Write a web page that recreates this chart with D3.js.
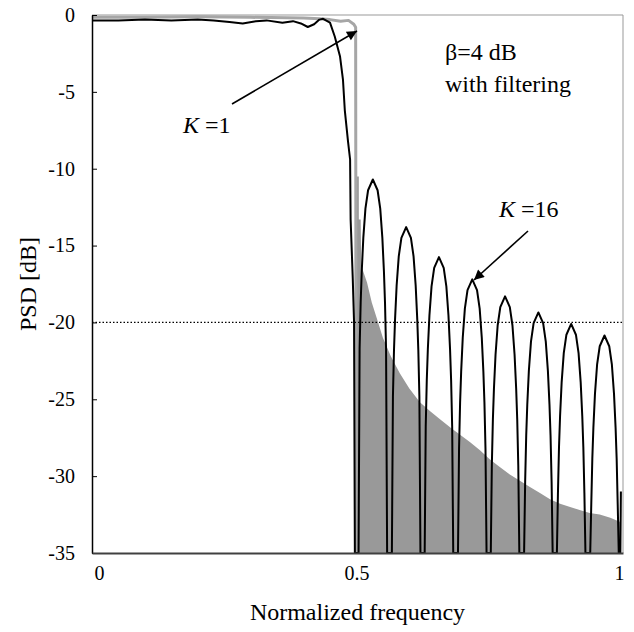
<!DOCTYPE html>
<html>
<head>
<meta charset="utf-8">
<script src="https://cdn.jsdelivr.net/npm/d3@7"></script>
<style>
  html, body { margin: 0; padding: 0; background: #fff; }
  svg { display: block; }
  text { font-family: "Liberation Serif", "Times New Roman", serif; fill: #000; }
</style>
</head>
<body>
<svg id="chart" width="634" height="632"></svg>
<script>
// ---------- data ----------
const xTicks = [0, 0.5, 1];
const yTicks = [0, -5, -10, -15, -20, -25, -30, -35];
const threshold = -20;

// K = 1 (gray): passband line and sidelobe envelope (dense oscillation area)
const k1Passband = [
  [0, -0.15], [0.1, -0.15], [0.2, -0.12], [0.3, -0.15], [0.4, -0.2], [0.43, -0.25],
  [0.45, -0.3], [0.47, -0.4], [0.485, -0.35], [0.495, -0.6], [0.4985, -0.8], [0.4995, -35]
];
const k1Envelope = [
  [0.4995, -10.5], [0.5045, -10.5], [0.5045, -13.3], [0.508, -13.3], [0.509, -16.3],
  [0.514, -16.8], [0.520, -17.4], [0.529, -18.7], [0.541, -20.0], [0.550, -21.0],
  [0.565, -22.2], [0.582, -23.3], [0.600, -24.3], [0.620, -25.2], [0.640, -25.8],
  [0.658, -26.3], [0.680, -26.9], [0.696, -27.3], [0.715, -27.8], [0.733, -28.3],
  [0.752, -28.9], [0.771, -29.4], [0.790, -29.9], [0.809, -30.3], [0.828, -30.7],
  [0.847, -31.1], [0.866, -31.5], [0.885, -31.8], [0.904, -32.0], [0.922, -32.2],
  [0.941, -32.4], [0.960, -32.5], [0.980, -32.7], [1.0, -33.0]
];

// K = 16 (black): passband and roll-off
const k16Passband = [
  [0, -0.35], [0.05, -0.35], [0.1, -0.3], [0.15, -0.35], [0.2, -0.3], [0.23, -0.35],
  [0.26, -0.45], [0.285, -0.55], [0.31, -0.4], [0.33, -0.35], [0.36, -0.5], [0.38, -0.4],
  [0.395, -0.55], [0.408, -0.78], [0.42, -0.6], [0.43, -0.3], [0.437, -0.25], [0.45, -0.5],
  [0.459, -1.4], [0.469, -2.7], [0.4745, -4.2], [0.478, -6.2], [0.484, -8.2], [0.488, -9.4],
  [0.489, -13.3], [0.493, -17.1], [0.4955, -20], [0.497, -35]
];
// K = 16 sidelobes (black)
const k16Sidelobes = [
  [0.504, -35], [0.506, -21.7], [0.508, -18.7], [0.510, -16.7], [0.513, -14.5], [0.517, -12.6], [0.522, -11.4],
  [0.531, -10.7], [0.540, -11.4], [0.545, -12.6], [0.549, -14.5], [0.552, -16.7], [0.554, -18.7], [0.556, -21.7], [0.558, -35],
  [0.567, -35], [0.569, -24.8], [0.571, -21.8], [0.573, -19.8], [0.576, -17.6], [0.580, -15.7], [0.585, -14.5],
  [0.594, -13.8], [0.603, -14.5], [0.608, -15.7], [0.612, -17.6], [0.615, -19.8], [0.617, -21.8], [0.619, -24.8], [0.621, -35],
  [0.629, -35], [0.631, -26.75], [0.633, -23.75], [0.635, -21.75], [0.638, -19.55], [0.642, -17.65], [0.647, -16.45],
  [0.656, -15.75], [0.665, -16.45], [0.670, -17.65], [0.674, -19.55], [0.677, -21.75], [0.679, -23.75], [0.681, -26.75], [0.683, -35],
  [0.692, -35], [0.694, -28.2], [0.696, -25.2], [0.698, -23.2], [0.701, -21.0], [0.705, -19.1], [0.710, -17.9],
  [0.719, -17.2], [0.728, -17.9], [0.733, -19.1], [0.737, -21.0], [0.740, -23.2], [0.742, -25.2], [0.744, -28.2], [0.746, -35],
  [0.754, -35], [0.756, -29.3], [0.758, -26.3], [0.760, -24.3], [0.763, -22.1], [0.767, -20.2], [0.772, -19.0],
  [0.781, -18.3], [0.790, -19.0], [0.795, -20.2], [0.799, -22.1], [0.802, -24.3], [0.804, -26.3], [0.806, -29.3], [0.808, -35],
  [0.817, -35], [0.819, -30.35], [0.821, -27.35], [0.823, -25.35], [0.826, -23.15], [0.830, -21.25], [0.835, -20.05],
  [0.844, -19.35], [0.853, -20.05], [0.858, -21.25], [0.862, -23.15], [0.865, -25.35], [0.867, -27.35], [0.869, -30.35], [0.871, -35],
  [0.879, -35], [0.881, -31.1], [0.883, -28.1], [0.885, -26.1], [0.888, -23.9], [0.892, -22.0], [0.897, -20.8],
  [0.906, -20.1], [0.915, -20.8], [0.920, -22.0], [0.924, -23.9], [0.927, -26.1], [0.929, -28.1], [0.931, -31.1], [0.933, -35],
  [0.942, -35], [0.944, -31.85], [0.946, -28.85], [0.948, -26.85], [0.951, -24.65], [0.955, -22.75], [0.960, -21.55],
  [0.969, -20.85], [0.978, -21.55], [0.983, -22.75], [0.987, -24.65], [0.990, -26.85], [0.992, -28.85], [0.994, -31.85], [0.996, -35],
  [0.999, -35], [1.0, -31]
];

// ---------- layout ----------
const svg = d3.select("#chart");
const mLeft = 92, mRight = 623, mTop = 15, mBottom = 553;
const x = d3.scaleLinear().domain([0, 1.004]).range([mLeft, mRight]);
const y = d3.scaleLinear().domain([-35, 0]).range([mBottom, mTop]);

svg.append("rect").attr("width", 634).attr("height", 632).attr("fill", "#fff");

// K=1 gray area
svg.append("path")
  .datum(k1Envelope)
  .attr("fill", "#999999")
  .attr("d", d3.area().x(d => x(d[0])).y0(y(-35)).y1(d => y(d[1])));

// K=1 gray passband line
svg.append("path")
  .datum(k1Passband)
  .attr("fill", "none").attr("stroke", "#a6a6a6").attr("stroke-width", 3)
  .attr("stroke-linejoin", "round")
  .attr("d", d3.line().x(d => x(d[0])).y(d => y(d[1])));

// K=16 black line
const k16All = k16Passband.concat(k16Sidelobes);
svg.append("path")
  .datum(k16All)
  .attr("fill", "none").attr("stroke", "#000").attr("stroke-width", 2)
  .attr("stroke-linejoin", "round")
  .attr("d", d3.line().x(d => x(d[0])).y(d => y(d[1])));

// -20 dB dotted threshold
svg.append("line")
  .attr("x1", x(0)).attr("x2", mRight)
  .attr("y1", y(threshold)).attr("y2", y(threshold))
  .attr("stroke", "#000").attr("stroke-width", 1.3).attr("stroke-dasharray", "1.5,2");

// frame (top & right gray)
svg.append("line").attr("x1", mLeft).attr("x2", mRight).attr("y1", mTop).attr("y2", mTop)
  .attr("stroke", "#999").attr("stroke-width", 1);
svg.append("line").attr("x1", mRight).attr("x2", mRight).attr("y1", mTop).attr("y2", mBottom)
  .attr("stroke", "#999").attr("stroke-width", 1);

// axes
const yAxis = svg.append("g").attr("transform", `translate(${mLeft},0)`)
  .call(d3.axisLeft(y).tickValues(yTicks).tickFormat(d => d).tickSizeInner(-5).tickSizeOuter(0).tickPadding(17));
yAxis.select(".domain").attr("stroke", "#000").attr("stroke-width", 1.5);
yAxis.selectAll(".tick line").attr("stroke", "#000").attr("stroke-width", 1);
yAxis.selectAll(".tick text").attr("font-size", 20).attr("font-family", "Liberation Serif, serif").attr("fill", "#000");

const xAxis = svg.append("g").attr("transform", `translate(0,${mBottom})`)
  .call(d3.axisBottom(x).tickValues(xTicks).tickFormat(d => d).tickSize(0).tickPadding(13));
xAxis.select(".domain").attr("stroke", "#404040").attr("stroke-width", 2);
xAxis.selectAll(".tick text").attr("font-size", 20).attr("font-family", "Liberation Serif, serif").attr("fill", "#000")
  .attr("dx", d => d === 0 ? 7 : (d === 1 ? -2 : 0));

// axis titles
svg.append("text").attr("x", (mLeft + mRight) / 2).attr("y", 620)
  .attr("text-anchor", "middle").attr("font-size", 24).text("Normalized frequency");
svg.append("text").attr("transform", `translate(36,${(mTop + mBottom) / 2}) rotate(-90)`)
  .attr("text-anchor", "middle").attr("font-size", 24).text("PSD [dB]");

// annotations
svg.append("text").attr("x", 445).attr("y", 60).attr("font-size", 24).text("β=4 dB");
svg.append("text").attr("x", 445).attr("y", 92).attr("font-size", 24).text("with filtering");

const t1 = svg.append("text").attr("x", 183).attr("y", 133).attr("font-size", 24);
t1.append("tspan").attr("font-style", "italic").text("K");
t1.append("tspan").text(" =1");
const t2 = svg.append("text").attr("x", 499).attr("y", 217).attr("font-size", 24);
t2.append("tspan").attr("font-style", "italic").text("K");
t2.append("tspan").text(" =16");

const defs = svg.append("defs");
defs.append("marker").attr("id", "ah")
  .attr("viewBox", "0 0 10 10").attr("refX", 10).attr("refY", 5)
  .attr("markerUnits", "userSpaceOnUse").attr("markerWidth", 15).attr("markerHeight", 10)
  .attr("orient", "auto")
  .append("path").attr("d", "M0,0 L10,5 L0,10 Z").attr("fill", "#000");

svg.append("line").attr("x1", 232).attr("y1", 104).attr("x2", 357).attr("y2", 31)
  .attr("stroke", "#000").attr("stroke-width", 1.6).attr("marker-end", "url(#ah)");
svg.append("line").attr("x1", 528).attr("y1", 231).attr("x2", 474).attr("y2", 280)
  .attr("stroke", "#000").attr("stroke-width", 1.6).attr("marker-end", "url(#ah)");
</script>
</body>
</html>
